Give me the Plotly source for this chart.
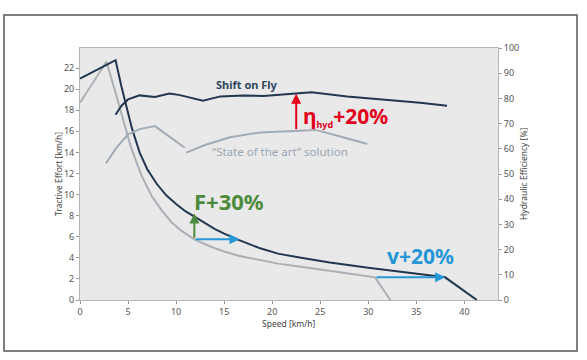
import plotly.graph_objects as go

# ---- data ----
sof_force_x = [0, 3.7, 4.3, 4.8, 5.4, 6.2, 7.0, 8.0, 9.0, 10.0, 11.0, 12.0, 13.0, 14.0, 15.0,
               16.5, 18.75, 20.6, 23, 26, 30, 34, 38, 41.3]
sof_force_y = [21.0, 22.75, 20.3, 18.6, 16.3, 14.0, 12.4, 11.0, 9.9, 9.1, 8.4, 7.85, 7.3, 6.75, 6.3,
               5.7, 4.9, 4.4, 4.0, 3.55, 3.05, 2.6, 2.15, 0.0]

soa_force_x = [0, 2.75, 3.5, 4.3, 5.3, 6.4, 7.5, 8.5, 9.5, 10.5, 11.9, 13.5, 15, 16.5, 18.75,
               20.6, 23, 26, 28.5, 30.7, 32.3]
soa_force_y = [18.7, 22.6, 20.3, 17.7, 14.5, 11.8, 9.8, 8.5, 7.4, 6.6, 5.75, 5.1, 4.6, 4.2, 3.75,
               3.45, 3.15, 2.8, 2.45, 2.15, 0.0]

sof_eff_x = [3.7, 4.3, 5.0, 6.2, 7.8, 9.3, 10.4, 11.5, 12.8, 14.6, 17, 19.1, 22.4, 24.1, 27.8,
             31, 35.4, 38.2]
sof_eff_y = [73.5, 77, 79.6, 81.2, 80.6, 81.9, 81.3, 80.3, 79.1, 80.8, 81.2, 81.0, 81.8, 82.4, 80.8,
             79.8, 78.3, 77.1]

soa_eff_x1 = [2.7, 3.8, 5.0, 6.2, 7.8, 9.4, 10.9]
soa_eff_y1 = [54.2, 60.5, 65.7, 67.8, 69.0, 64.5, 60.4]
soa_eff_x2 = [11.05, 13, 15.6, 18.75, 22.4, 24.5, 27, 29.9]
soa_eff_y2 = [58.5, 61.5, 64.6, 66.5, 67.1, 67.5, 65.0, 61.9]

x_ticks = [0, 5, 10, 15, 20, 25, 30, 35, 40]
y_ticks = [0, 2, 4, 6, 8, 10, 12, 14, 16, 18, 20, 22]
y2_ticks = [0, 10, 20, 30, 40, 50, 60, 70, 80, 90, 100]

DARK = "#22374f"
GRAY = "#a2acb6"
GRAY2 = "#aab0b6"
GREEN = "#4b8b3b"
BLUE = "#2596d6"
RED = "#e2001a"
FONT = "Noto Sans"

fig = go.Figure()
fig.add_trace(go.Scatter(x=soa_force_x, y=soa_force_y, mode="lines",
                         line=dict(color=GRAY2, width=2), showlegend=False))
fig.add_trace(go.Scatter(x=sof_force_x, y=sof_force_y, mode="lines",
                         line=dict(color=DARK, width=2), showlegend=False))
fig.add_trace(go.Scatter(x=soa_eff_x1, y=soa_eff_y1, mode="lines", yaxis="y2",
                         line=dict(color=GRAY, width=2), showlegend=False))
fig.add_trace(go.Scatter(x=soa_eff_x2, y=soa_eff_y2, mode="lines", yaxis="y2",
                         line=dict(color=GRAY, width=2), showlegend=False))
fig.add_trace(go.Scatter(x=sof_eff_x, y=sof_eff_y, mode="lines", yaxis="y2",
                         line=dict(color=DARK, width=2), showlegend=False))

ann = []
# arrows
ann.append(dict(x=11.9, y=8.2, ax=11.9, ay=5.75, xref="x", yref="y", axref="x", ayref="y",
                showarrow=True, arrowhead=2, arrowsize=1, arrowwidth=2, arrowcolor=GREEN, text=""))
ann.append(dict(x=16.6, y=5.75, ax=11.9, ay=5.75, xref="x", yref="y", axref="x", ayref="y",
                showarrow=True, arrowhead=2, arrowsize=1, arrowwidth=2, arrowcolor=BLUE, text=""))
ann.append(dict(x=38.0, y=2.15, ax=30.7, ay=2.15, xref="x", yref="y", axref="x", ayref="y",
                showarrow=True, arrowhead=2, arrowsize=1, arrowwidth=2, arrowcolor=BLUE, text=""))
ann.append(dict(x=22.5, y=81.8, ax=22.5, ay=67.2, xref="x", yref="y2", axref="x", ayref="y2",
                showarrow=True, arrowhead=2, arrowsize=1, arrowwidth=2, arrowcolor=RED, text=""))
# texts
ann.append(dict(x=17.4, y=85.7, xref="x", yref="y2", text="<b>Shift on Fly</b>", showarrow=False,
                font=dict(family=FONT, size=11, color="#2f4560")))
ann.append(dict(x=20.8, y=59.1, xref="x", yref="y2", text="\u201cState of the art\u201d solution",
                showarrow=False, font=dict(family=FONT, size=11.5, color="#9aa6b4")))
ann.append(dict(x=27.6, y=73, xref="x", yref="y2",
                text="<b>\u03b7<sub><span style='font-size:9px'>hyd</span></sub>+20%</b>",
                showarrow=False, font=dict(family=FONT, size=21, color=RED)))
ann.append(dict(x=15.5, y=9.43, xref="x", yref="y", text="<b>F+30%</b>",
                showarrow=False, font=dict(family=FONT, size=22, color=GREEN)))
ann.append(dict(x=35.4, y=4.2, xref="x", yref="y", text="<b>v+20%</b>",
                showarrow=False, font=dict(family=FONT, size=21, color=BLUE)))

titlefont = dict(family=FONT, size=8.5, color="#444444")
# axis titles (positioned in paper coords: plot area = px 80..498 x 48..300)
ann.append(dict(x=(58 - 80) / 418, y=0.5, xref="paper", yref="paper", text="Tractive Effort [km/h]",
                textangle=-90, showarrow=False, font=titlefont, xanchor="center", yanchor="middle"))
ann.append(dict(x=(523 - 80) / 418, y=0.5, xref="paper", yref="paper", text="Hydraulic Efficiency [%]",
                textangle=-90, showarrow=False, font=titlefont, xanchor="center", yanchor="middle"))
ann.append(dict(x=0.5, y=(300 - 323) / 252, xref="paper", yref="paper", text="Speed [km/h]",
                showarrow=False, font=titlefont, xanchor="center", yanchor="middle"))

shapes = [dict(type="rect", xref="paper", yref="paper", x0=-0.1818, x1=1.189, y0=-0.2024, y1=1.131,
               line=dict(color="#555555", width=1.5), layer="below")]

tickfont = dict(family=FONT, size=9, color="#555555")

fig.update_layout(
    width=587, height=360,
    margin=dict(l=80, r=89, t=48, b=60, autoexpand=False),
    paper_bgcolor="white", plot_bgcolor="#e9e9e9",
    annotations=ann, shapes=shapes,
    xaxis=dict(range=[0, 43.5], tickvals=x_ticks, showgrid=False, zeroline=False, automargin=False,
               ticks="outside", ticklen=3, tickcolor="#999", tickfont=tickfont,
               showline=True, linecolor="#b5b5b5", linewidth=1, mirror=True),
    yaxis=dict(range=[0, 23.9], tickvals=y_ticks, showgrid=False, zeroline=False, automargin=False,
               ticks="outside", ticklen=3, tickcolor="#999", tickfont=tickfont,
               showline=True, linecolor="#b5b5b5", linewidth=1, mirror=True),
    yaxis2=dict(range=[0, 100], tickvals=y2_ticks, overlaying="y", side="right", automargin=False,
                showgrid=False, zeroline=False, ticks="outside", ticklen=3, tickcolor="#999",
                tickfont=tickfont),
)

fig.write_html("out.html", config={"displayModeBar": False},
               post_script="document.body.style.margin='0';")
